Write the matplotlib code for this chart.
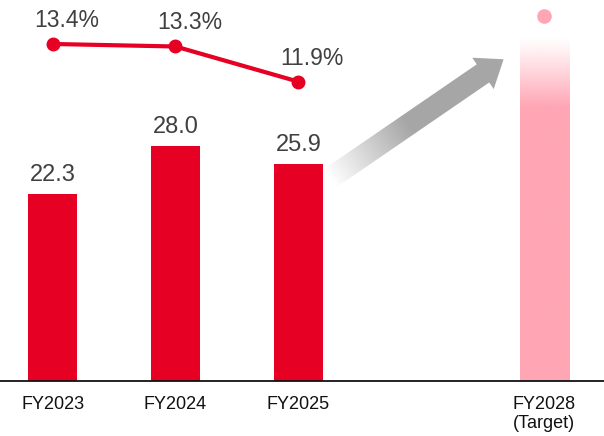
import numpy as np
import matplotlib
matplotlib.use('Agg')
import matplotlib.pyplot as plt
from matplotlib.patches import Polygon

plt.rcParams['font.family'] = ['Liberation Sans', 'DejaVu Sans']

# fiscal years, position 3 left empty as a gap before the target year
years = ['FY2023', 'FY2024', 'FY2025', 'FY2028\n(Target)']
xpos = [0, 1, 2, 4]
profit = [22.3, 28.0, 25.9]
profit_target = 41.0
margin = [13.4, 13.3, 11.9]
margin_target = 14.5

red = '#e60023'
pink = '#ffa6b4'
grey = '#a6a6a6'
txt = '#404040'

W, H = 604, 436
fig = plt.figure(figsize=(W / 100, H / 100), dpi=100)
ax = fig.add_axes([0, 55.3 / H, 1, 380.7 / H])
ax.set_xlim(-0.428, 4.487)
ax.set_ylim(0, 45.48)

# actual bars
ax.bar(xpos[:3], profit, width=0.4, color=red, zorder=2)
for x, v in zip(xpos[:3], profit):
    ax.annotate(f'{v:.1f}', (x, v), xytext=(0, 6), textcoords='offset points',
                ha='center', va='bottom', fontsize=17, color=txt)

# target bar fading out towards the top
tb = ax.bar(xpos[3], profit_target, width=0.4, color='none', zorder=2)[0]
ny = 400
yy = np.linspace(0, 1, ny)[:, None]  # 0 = bottom, 1 = top
alpha = np.clip((1 - yy) / 0.2, 0, 1) ** 1.1
rgba = np.zeros((ny, 1, 4))
rgba[..., :3] = matplotlib.colors.to_rgb(pink)
rgba[..., 3] = alpha
im = ax.imshow(rgba, extent=(xpos[3] - 0.2, xpos[3] + 0.2, 0, profit_target),
               origin='lower', aspect='auto', interpolation='bilinear', zorder=2)
im.set_clip_path(tb)

ax.set_xticks(xpos)
ax.set_xticklabels(years, fontsize=13, color='#111111', linespacing=1.15)
ax.tick_params(axis='x', length=0, pad=11)
ax.set_yticks([])
for s in ['top', 'left', 'right']:
    ax.spines[s].set_visible(False)
ax.spines['bottom'].set_linewidth(1.3)
ax.spines['bottom'].set_color('#111111')

# margin line on its own scale
ax2 = ax.twinx()
ax2.set_ylim(0, 15.15)
ax2.axis('off')
ax2.plot(xpos[:3], margin, color=red, lw=3, marker='o', ms=9, zorder=3)
ax2.plot(xpos[3], margin_target, 'o', color=pink, ms=9.5, zorder=3)
for x, v in zip(xpos[:3], margin):
    ax2.annotate(f'{v:.1f}%', (x, v), xytext=(10, 17), textcoords='offset points',
                 ha='center', va='center', fontsize=16.5, color=txt)

# grey growth arrow, drawn in pixel space with a gradient fill
fig.canvas.draw()
p0 = np.array(ax.transData.transform((2.26, 24.2)))
p1 = np.array(ax.transData.transform((3.67, 38.4)))
d = p1 - p0
L = np.hypot(*d)
u = d / L
n = np.array([-u[1], u[0]])
hw, hh, hl = 11, 19, 25
base = p1 - u * hl
verts = [p0 + n * hw, base + n * hw, base + n * hh, p1,
         base - n * hh, base - n * hw, p0 - n * hw]

ov = fig.add_axes([0, 0, 1, 1])
ov.set_xlim(0, W)
ov.set_ylim(0, H)
ov.axis('off')
ov.patch.set_alpha(0)
poly = Polygon(verts, closed=True, facecolor='none', edgecolor='none')
ov.add_patch(poly)
gx, gy = np.meshgrid(np.arange(W) + 0.5, np.arange(H) + 0.5)
t = ((gx - p0[0]) * u[0] + (gy - p0[1]) * u[1]) / L
t = np.clip(t / 0.45, 0, 1)
c0 = np.array([1.0, 1.0, 1.0])
c1 = np.array(matplotlib.colors.to_rgb(grey))
img = c0[None, None, :] * (1 - t[..., None]) + c1[None, None, :] * t[..., None]
gim = ov.imshow(img, extent=(0, W, 0, H), origin='lower', aspect='auto',
                interpolation='bilinear')
gim.set_clip_path(poly)

fig.savefig('out.png', dpi=100)
